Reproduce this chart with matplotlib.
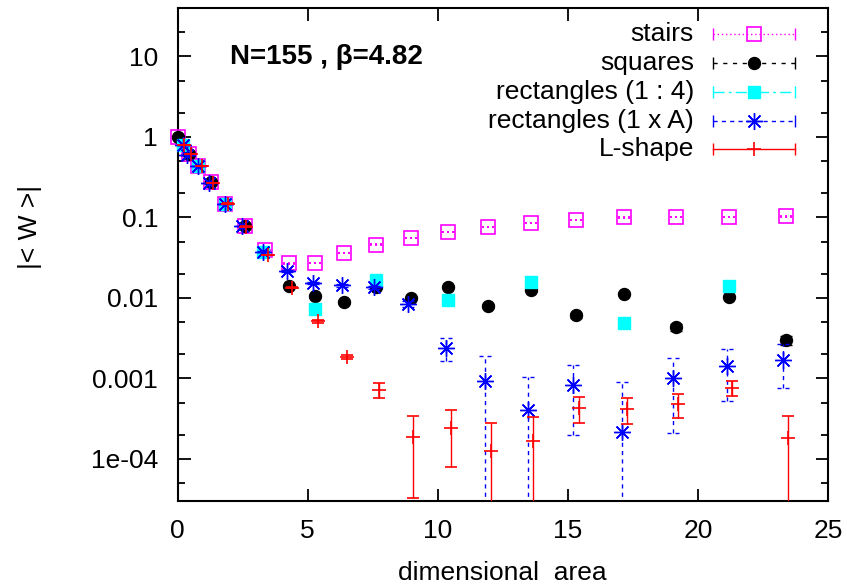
import numpy as np
import matplotlib
matplotlib.use("Agg")
import matplotlib.pyplot as plt
from matplotlib.path import Path
from matplotlib.ticker import FixedLocator, FixedFormatter, LogLocator, NullFormatter

plt.rcParams['font.family'] = ['Liberation Sans', 'DejaVu Sans']

# ---------------- data ----------------
stairs_x = [0.0, 0.45, 0.8, 1.3, 1.83, 2.59, 3.36, 4.28, 5.28, 6.41, 7.63, 8.97,
            10.38, 11.92, 13.57, 15.32, 17.17, 19.15, 21.21, 23.37]
stairs_y = [1.0, 0.61, 0.43, 0.272, 0.149, 0.079, 0.039, 0.0268, 0.0272, 0.0363,
            0.0461, 0.0557, 0.0662, 0.0763, 0.0856, 0.0927, 0.100, 0.101, 0.102, 0.103]
stairs_err = [0.0003] * 20

squares_x = [0.0, 0.45, 1.3, 2.59, 4.3, 5.3, 6.41, 7.63, 8.97, 10.38, 11.92,
             13.57, 15.32, 17.17, 19.15, 21.21, 23.37]
squares_y = [1.0, 0.61, 0.272, 0.079, 0.0141, 0.0105, 0.0089, 0.0135, 0.0100,
             0.0137, 0.0080, 0.0125, 0.0061, 0.0113, 0.0043, 0.0103, 0.0030]
squares_err = [0.0004] * 17

rect14_x = [0.22, 0.8, 1.83, 3.3, 5.3, 7.63, 10.38, 13.57, 17.17, 21.21]
rect14_y = [0.80, 0.43, 0.149, 0.0373, 0.0072, 0.0165, 0.0093, 0.0158, 0.0049, 0.0141]
rect14_err = [0.0004] * 10

rect1A_x = [0.22, 0.35, 0.8, 1.2, 1.83, 2.49, 3.3, 4.19, 5.2, 6.31, 7.55, 8.87,
            10.3, 11.82, 13.46, 15.21, 17.07, 19.05, 21.13, 23.28]
rect1A_y = [0.79, 0.60, 0.43, 0.27, 0.149, 0.078, 0.0373, 0.0218, 0.0154, 0.0144,
            0.0135, 0.0085, 0.0024, 0.00093, 0.0004, 0.00083, 0.000214, 0.0010,
            0.00141, 0.00171]
rect1A_err = [0.0005, 0.0005, 0.0005, 0.0005, 0.0005, 0.0005, 0.0005, 0.0005,
              0.0006, 0.0006, 0.0006, 0.0007, 0.00075, 0.00097, 0.00065, 0.00063,
              0.0007, 0.00079, 0.00088, 0.00095]

lshape_x = [0.25, 0.5, 0.93, 1.37, 1.95, 2.65, 3.49, 4.4, 5.41, 6.5, 7.74, 9.06,
            10.5, 12.04, 13.67, 15.43, 17.29, 19.25, 21.32, 23.47]
lshape_y = [0.79, 0.61, 0.43, 0.27, 0.149, 0.077, 0.034, 0.0134, 0.0051, 0.00184,
            0.00072, 0.000188, 0.000240, 0.000125, 0.000165, 0.000432, 0.00042,
            0.000483, 0.00077, 0.000180]
lshape_err = [0.0002, 0.0002, 0.0002, 0.0002, 0.0002, 0.0002, 0.0002, 0.0002,
              0.0002, 0.00012, 0.00015, 0.000155, 0.00016, 0.000155, 0.000165,
              0.000155, 0.00015, 0.000165, 0.00016, 0.00016]

series_labels = ["stairs", "squares", "rectangles (1 : 4)", "rectangles (1 x A)", "L-shape"]

ytick_vals = [1e-4, 1e-3, 1e-2, 1e-1, 1, 10]
ytick_labels = ["1e-04", "0.001", "0.01", "0.1", "1", "10"]
xtick_vals = [0, 5, 10, 15, 20, 25]

# ---------------- figure ----------------
W, H = 847, 587
fig = plt.figure(figsize=(W / 100, H / 100), dpi=100)
L, R, T, B = 177.5, 828, 8, 501
ax = fig.add_axes([L / W, 1 - B / H, (R - L) / W, (B - T) / H])
ax.set_yscale('log')

MAG = '#ff00ff'
CYA = '#00ffff'
BLU = '#0000ff'
RED = '#ff0000'
FS = 19

def seg_path(segs):
    verts, codes = [], []
    for a, b in segs:
        verts += [(a, 0), (b, 0)]
        codes += [Path.MOVETO, Path.LINETO]
    return Path(verts, codes)

dotted_cap = seg_path([(-0.5, -0.38), (-0.06, 0.06), (0.38, 0.5)])
dashed_cap = seg_path([(-0.5, -0.15), (0.15, 0.5)])

cap = 4.0
elw = 1.0
STAR = (8, 2, 0)

# stairs
eb = ax.errorbar(stairs_x, stairs_y, yerr=stairs_err, fmt='s', ms=9.5, mfc='none',
                 mec=MAG, mew=1.2, ecolor=MAG, elinewidth=elw, capsize=cap, zorder=3)
eb[0].set_clip_on(False)
eb[2][0].set_linestyle((0, (1, 2)))
for c in eb[1]:
    c.set_marker(dotted_cap)
    c.set_markeredgewidth(1.3)

# squares
eb = ax.errorbar(squares_x, squares_y, yerr=squares_err, fmt='o', ms=8.6, mfc='black',
                 mec='black', ecolor='black', elinewidth=elw, capsize=cap, zorder=4)
eb[0].set_clip_on(False)
eb[2][0].set_linestyle((0, (3, 3)))

# rectangles 1:4
eb = ax.errorbar(rect14_x, rect14_y, yerr=rect14_err, fmt='s', ms=8.8, mfc=CYA,
                 mec=CYA, ecolor=CYA, elinewidth=elw, capsize=cap, zorder=5)
eb[0].set_clip_on(False)
eb[2][0].set_linestyle((0, (6, 2, 1, 2)))

# rectangles 1xA
eb = ax.errorbar(rect1A_x, rect1A_y, yerr=rect1A_err, fmt='none', ecolor=BLU,
                 elinewidth=elw, capsize=cap, zorder=6)
eb[2][0].set_linestyle((0, (3, 3)))
for c in eb[1]:
    c.set_marker(dashed_cap)
    c.set_markeredgewidth(1.0)
ax.plot(rect1A_x, rect1A_y, linestyle='none', marker=STAR, ms=12,
        mec=BLU, mew=1.0, zorder=6, clip_on=False)

# L-shape
eb = ax.errorbar(lshape_x, lshape_y, yerr=lshape_err, fmt='+', ms=10, mew=1.2,
                 color=RED, ecolor=RED, elinewidth=elw, capsize=cap, zorder=7)
eb[0].set_clip_on(False)

# ---------------- axes ----------------
ax.set_xlim(0, 25)
ax.set_ylim(3e-5, 40)
ax.xaxis.set_major_locator(FixedLocator(xtick_vals))
ax.yaxis.set_major_locator(FixedLocator(ytick_vals))
ax.yaxis.set_major_formatter(FixedFormatter(ytick_labels))
ax.yaxis.set_minor_locator(LogLocator(base=10, subs=(2.0, 5.0), numticks=20))
ax.yaxis.set_minor_formatter(NullFormatter())
ax.tick_params(which='both', direction='in', top=True, right=True, width=1.3,
               labelsize=FS)
ax.tick_params(which='major', length=9)
ax.tick_params(which='minor', length=5)
ax.tick_params(axis='y', pad=14)
ax.tick_params(axis='x', pad=13)
for s in ax.spines.values():
    s.set_linewidth(1.5)

fig.text(502.7 / W, 1 - 573 / H, "dimensional  area", ha='center', va='center', fontsize=FS)
fig.text(29.5 / W, 1 - 226.7 / H, "|< W >|", ha='center', va='center', rotation=90,
         fontsize=FS)

ax.text(0.0807, 0.9012, "N=155 , \u03b2=4.82", transform=ax.transAxes, ha='left',
        va='center', fontsize=20, fontweight='bold')

# ---------------- legend (gnuplot style) ----------------
rows_y = [0.9479, 0.8884, 0.8296, 0.7698, 0.7140]
x_txt, x1, x2, xm = 0.794, 0.8225, 0.949, 0.8856
leg_styles = [
    dict(color=MAG, ls=(0, (1, 2)), marker='s', mfc='none', ms=9.5, mew=1.2),
    dict(color='black', ls=(0, (3, 4)), marker='o', mfc='black', ms=8.6, mew=1.0),
    dict(color=CYA, ls=(0, (8, 3, 2, 3)), marker='s', mfc=CYA, ms=8.8, mew=1.0),
    dict(color=BLU, ls=(0, (3, 3)), marker=STAR, mfc=BLU, ms=12, mew=1.0),
    dict(color=RED, ls='-', marker='+', mfc=RED, ms=10, mew=1.2),
]
for lab, yr, st in zip(series_labels, rows_y, leg_styles):
    ax.text(x_txt, yr, lab, transform=ax.transAxes, ha='right', va='center', fontsize=FS)
    ax.plot([x1, x2], [yr, yr], transform=ax.transAxes, color=st['color'],
            ls=st['ls'], lw=1.0, clip_on=False, zorder=8)
    ax.plot([x1, x2], [yr, yr], transform=ax.transAxes, color=st['color'],
            ls='none', marker='|', ms=8, mew=1.0, clip_on=False, zorder=8)
    ax.plot([xm], [yr], transform=ax.transAxes, color=st['color'], ls='none',
            marker=st['marker'], mfc=st['mfc'], mec=st['color'], ms=st['ms'],
            mew=st['mew'], clip_on=False, zorder=9)

fig.savefig("out.png", dpi=100)
